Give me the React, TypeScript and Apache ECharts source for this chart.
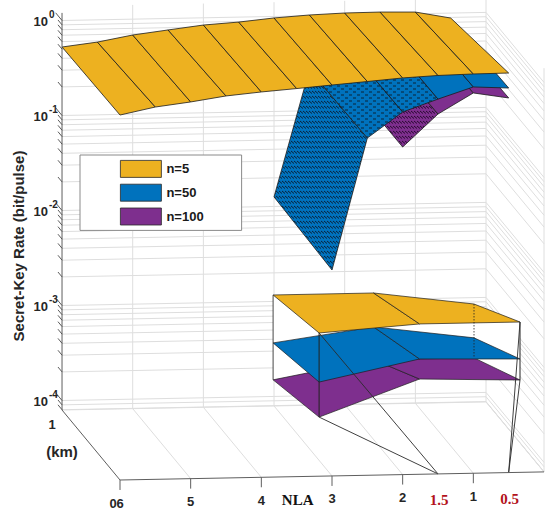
import React, { useEffect, useRef } from "react";
import * as echarts from "echarts";

// ---------------- data: secret-key rate (bit/pulse) ----------------
const NLA = [6, 5.5, 5, 4.5, 4, 3.5, 3, 2.5, 2, 1.5, 1, 0.5];
const DISTANCE_KM = [0, 1];
const RATE_N5_0KM = [0.552, 0.659, 0.733, 0.834, 0.904, 0.966, 1.035, 1.109, 1.189, 1.242, 1.268, 1.276];
const RATE_N5_1KM = [0.526, 0.583, 0.681, 0.757, 0.839, 0.887, 0.964, 1.019, 1.052, 1.059, 1.042, 0.887];
const RATE_N50_0KM = [null, null, null, null, null, null, 0.0117, 0.282, 0.521, 0.701, 0.925, 0.887];
const RATE_N50_1KM = [null, null, null, null, null, null, 0.0126, 0.269, 0.501, 0.676, 0.871, 0.832];
const RATE_N100_0KM = [null, null, null, null, null, null, null, null, 0.223, 0.488, 0.8, 0.697];
const RATE_N100_1KM = [null, null, null, null, null, null, null, null, 0.219, 0.468, 0.759, 0.661];

// zoomed view (inset)
const ZOOM_NLA = [1.5, 1, 0.5];
const ZOOM_N5_0KM = [1.242, 1.365, 1.393];
const ZOOM_N5_1KM = [1.242, 1.268, 1.13];
const ZOOM_N50_0KM = [0.743, 0.946, 0.946];
const ZOOM_N50_1KM = [0.752, 0.889, 0.793];
const ZOOM_N100_0KM = [0.515, 0.767, 0.759];
const ZOOM_N100_1KM = [0.511, 0.631, 0.643];

const NLA_TICKS = [6, 5, 4, 3, 2, 1];
const NLA_GRID = [6, 5, 4, 3, 2, 1, 0];
const DIST_TICKS = [0, 1];
const RATE_DECADES = [-4, -3, -2, -1, 0];
const HIGHLIGHT_NLA = [1.5, 0.5];
const SERIES_NAMES = ["n=5", "n=50", "n=100"];

// ---------------- style ----------------
const YELLOW = "#EDB120";
const BLUE = "#0072BD";
const PURPLE = "#7E2F8E";
const SANS = '"Liberation Sans", Arial, Helvetica, sans-serif';
const SERIF = '"Liberation Serif", "Times New Roman", serif';
const GRID_STYLE = { stroke: "#dedede", lineWidth: 1 };
const AXIS_STYLE = { stroke: "#5e5e5e", lineWidth: 1 };
const EDGE = "#1c1c1c";

const LOG_MIN = -4.1;
const LOG_AXIS_TOP = 0.08;
const WALL_TOP = 0.15;

// oblique projection of (NLA, distance, log10 rate) into the hidden cartesian plane
const DX = 58 / 70.7;
const DY = 70 / 95;
const TILT = 1.35 / 95;
const lg = (v: number) => Math.log10(v);
const P = (nla: number, d: number, lz: number) => [nla + d * DX, lz + d * DY + (6 - nla) * TILT];
// magnified projection for the inset
const IX0 = 3.1825, IKX = 2.843, IDX = 0.651, IY0 = -2.5526, IL0 = 0.094, IKY = 2.316, IDY = 0.4;
const PZ = (nla: number, d: number, lz: number) => [IX0 + (nla - 1.5) * IKX + d * IDX, IY0 + (lz - IL0) * IKY + d * IDY];

const GRID_LEVELS: number[] = [];
for (let k = -5; k <= 0; k++) {
  for (let m = 1; m <= 9; m++) {
    const l = k + Math.log10(m);
    if (l > LOG_MIN && l < WALL_TOP) GRID_LEVELS.push(l);
  }
}

function cells(near: (number | null)[], far: (number | null)[]) {
  const out: number[][] = [];
  for (let i = 0; i < NLA.length - 1; i++) {
    if (near[i] == null || near[i + 1] == null || far[i] == null || far[i + 1] == null) continue;
    out.push([NLA[i], NLA[i + 1], near[i] as number, near[i + 1] as number, far[i] as number, far[i + 1] as number]);
  }
  return out;
}

function seg(api: any, a: number[], b: number[], style: any) {
  const p = api.coord(a);
  const q = api.coord(b);
  return { type: "line", shape: { x1: p[0], y1: p[1], x2: q[0], y2: q[1] }, style };
}

function makePattern(bg: string, ink: string, kind: string) {
  const w = kind === "hatch" ? 3 : 8;
  const h = kind === "hatch" ? 5 : 6;
  const c = document.createElement("canvas");
  c.width = w;
  c.height = h;
  const g = c.getContext("2d")!;
  g.fillStyle = bg;
  g.fillRect(0, 0, w, h);
  g.strokeStyle = ink;
  g.lineWidth = 1;
  g.beginPath();
  if (kind === "hatch") {
    g.moveTo(0, 1);
    g.lineTo(3, 3.5);
  } else {
    g.moveTo(1, 2);
    g.lineTo(4, 2);
    g.moveTo(5, 5);
    g.lineTo(8, 5);
  }
  g.stroke();
  return { image: c.toDataURL(), repeat: "repeat", imageWidth: w, imageHeight: h };
}

export default function App() {
  const ref = useRef<HTMLDivElement>(null);

  useEffect(() => {
    const chart = echarts.init(ref.current!, null, { renderer: "svg" });

    const hatchBlue = makePattern(BLUE, "#0b2236", "hatch");
    const dotsBlue = makePattern(BLUE, "#0b2236", "dots");
    const hatchPurple = makePattern(PURPLE, "#2a0a30", "hatch");

    const fillN5 = () => YELLOW;
    const fillN50 = (a: number) => (a === 3 ? hatchBlue : a === 2.5 || a === 2 ? dotsBlue : BLUE);
    const fillN100 = (a: number) => (a === 2 ? hatchPurple : PURPLE);

    const surfaceRender = (fillFor: (a: number) => any) => (params: any, api: any) => {
      const a = api.value(0);
      const b = api.value(1);
      const pts = [
        P(a, DISTANCE_KM[0], lg(api.value(2))),
        P(b, DISTANCE_KM[0], lg(api.value(3))),
        P(b, DISTANCE_KM[1], lg(api.value(5))),
        P(a, DISTANCE_KM[1], lg(api.value(4))),
      ].map((p) => api.coord(p));
      return {
        type: "polygon",
        shape: { points: pts },
        style: { fill: fillFor(a), stroke: EDGE, lineWidth: 0.8, lineJoin: "round" },
      };
    };

    // zoom sets, drawn bottom-up
    const ZOOM_SETS = [
      { near: ZOOM_N100_0KM, far: ZOOM_N100_1KM, color: PURPLE },
      { near: ZOOM_N50_0KM, far: ZOOM_N50_1KM, color: BLUE },
      { near: ZOOM_N5_0KM, far: ZOOM_N5_1KM, color: YELLOW },
    ];
    const zoomCells: number[][] = [];
    ZOOM_SETS.forEach((s, si) => {
      for (let i = 0; i < ZOOM_NLA.length - 1; i++) {
        zoomCells.push([ZOOM_NLA[i], ZOOM_NLA[i + 1], s.near[i], s.near[i + 1], s.far[i], s.far[i + 1], si]);
      }
    });
    const zi = (nla: number) => ZOOM_NLA.indexOf(nla);
    const zTop = (nla: number, d: number) => lg((d === 0 ? ZOOM_N5_0KM : ZOOM_N5_1KM)[zi(nla)]);
    const zBot = (nla: number, d: number) => lg((d === 0 ? ZOOM_N100_0KM : ZOOM_N100_1KM)[zi(nla)]);

    const option: any = {
      animation: false,
      backgroundColor: "#ffffff",
      grid: { left: 120, right: 6, top: 20, bottom: 36, containLabel: false },
      xAxis: { type: "value", min: 0, max: 6, inverse: true, show: false },
      yAxis: { type: "value", min: LOG_MIN, max: LOG_MIN + 460 / 95, show: false },
      legend: {
        data: SERIES_NAMES.map((n, i) => ({
          name: n,
          itemStyle: { color: [YELLOW, BLUE, PURPLE][i], borderColor: "#2a2a2a", borderWidth: 0.8 },
        })),
        orient: "vertical",
        left: 80,
        top: 155,
        itemWidth: 41,
        itemHeight: 17,
        itemGap: 6,
        padding: [5, 38, 5, 40],
        borderColor: "#8a8a8a",
        borderWidth: 1,
        backgroundColor: "#ffffff",
        icon: "rect",
        selectedMode: false,
        textStyle: { fontSize: 13, fontWeight: "bold", color: "#1a1a1a", fontFamily: SANS },
        z: 20,
      },
      graphic: [
        {
          type: "text",
          x: 18,
          y: 246,
          rotation: Math.PI / 2,
          style: {
            text: "Secret-Key Rate (bit/pulse)",
            fill: "#262626",
            font: `bold 15px ${SANS}`,
            textAlign: "center",
            textVerticalAlign: "middle",
          },
          z: 30,
        },
      ],
      series: [
        // back wall verticals + floor lines
        {
          type: "custom",
          coordinateSystem: "cartesian2d",
          silent: true,
          z: 1,
          data: NLA_GRID.map((n) => [n, LOG_MIN]),
          renderItem: (params: any, api: any) => {
            const n = api.value(0);
            const ch: any[] = [];
            if (n !== 6) {
              ch.push(seg(api, P(n, 1, LOG_MIN), P(n, 1, WALL_TOP), GRID_STYLE));
              ch.push(seg(api, P(n, 1, LOG_MIN), P(n, 0, LOG_MIN), GRID_STYLE));
            }
            if (n === 0) ch.push(seg(api, P(0, 0, LOG_MIN), P(0, 0, WALL_TOP), GRID_STYLE));
            return { type: "group", children: ch };
          },
        },
        // horizontal log grid lines on back and side walls
        {
          type: "custom",
          coordinateSystem: "cartesian2d",
          silent: true,
          z: 1,
          data: [LOG_MIN, ...GRID_LEVELS].map((l) => [0, l]),
          renderItem: (params: any, api: any) => {
            const l = api.value(1);
            const pts = [P(6, 1, l), P(0, 1, l), P(0, 0, l)].map((p) => api.coord(p));
            return { type: "polyline", shape: { points: pts }, style: { ...GRID_STYLE, fill: "none" } };
          },
        },
        // surfaces
        {
          name: "n=100",
          type: "custom",
          coordinateSystem: "cartesian2d",
          silent: true,
          z: 2,
          itemStyle: { color: PURPLE },
          data: cells(RATE_N100_0KM, RATE_N100_1KM),
          renderItem: surfaceRender(fillN100),
        },
        {
          name: "n=50",
          type: "custom",
          coordinateSystem: "cartesian2d",
          silent: true,
          z: 3,
          itemStyle: { color: BLUE },
          data: cells(RATE_N50_0KM, RATE_N50_1KM),
          renderItem: surfaceRender(fillN50),
        },
        {
          name: "n=5",
          type: "custom",
          coordinateSystem: "cartesian2d",
          silent: true,
          z: 4,
          itemStyle: { color: YELLOW },
          data: cells(RATE_N5_0KM, RATE_N5_1KM),
          renderItem: surfaceRender(fillN5),
        },
        // inset: white backing
        {
          type: "custom",
          coordinateSystem: "cartesian2d",
          silent: true,
          z: 5,
          data: [[ZOOM_NLA[0], 0]],
          renderItem: (params: any, api: any) => {
            const pts: number[][] = [];
            ZOOM_NLA.forEach((n) => pts.push(PZ(n, 1, zTop(n, 1))));
            pts.push(PZ(ZOOM_NLA[2], 0, zTop(ZOOM_NLA[2], 0)));
            [...ZOOM_NLA].reverse().forEach((n) => pts.push(PZ(n, 0, zBot(n, 0))));
            pts.push(PZ(ZOOM_NLA[0], 1, zBot(ZOOM_NLA[0], 1)));
            return {
              type: "polygon",
              shape: { points: pts.map((p) => api.coord(p)) },
              style: { fill: "#ffffff", stroke: "none" },
            };
          },
        },
        // inset: back-left vertical
        {
          type: "custom",
          coordinateSystem: "cartesian2d",
          silent: true,
          z: 6,
          data: [[ZOOM_NLA[0], 1]],
          renderItem: (params: any, api: any) => {
            const n = api.value(0);
            const d = api.value(1);
            return seg(api, PZ(n, d, zTop(n, d)), PZ(n, d, zBot(n, d)), { stroke: "#333", lineWidth: 0.9 });
          },
        },
        // inset: surfaces
        {
          type: "custom",
          coordinateSystem: "cartesian2d",
          silent: true,
          z: 7,
          data: zoomCells,
          renderItem: (params: any, api: any) => {
            const a = api.value(0);
            const b = api.value(1);
            const s = api.value(6);
            const pts = [
              PZ(a, 0, lg(api.value(2))),
              PZ(b, 0, lg(api.value(3))),
              PZ(b, 1, lg(api.value(5))),
              PZ(a, 1, lg(api.value(4))),
            ].map((p) => api.coord(p));
            return {
              type: "polygon",
              shape: { points: pts },
              style: { fill: ZOOM_SETS[s].color, stroke: EDGE, lineWidth: 0.7, lineJoin: "round" },
            };
          },
        },
        // inset: front verticals and dotted back-right vertical
        {
          type: "custom",
          coordinateSystem: "cartesian2d",
          silent: true,
          z: 8,
          data: [[ZOOM_NLA[0], 0], [ZOOM_NLA[2], 0], [ZOOM_NLA[2], 1]],
          renderItem: (params: any, api: any) => {
            const n = api.value(0);
            const d = api.value(1);
            const dotted = d === 1;
            return seg(api, PZ(n, d, zTop(n, d)), PZ(n, d, zBot(n, d)), {
              stroke: "#222",
              lineWidth: dotted ? 0.8 : 1,
              lineDash: dotted ? [1.5, 1.5] : null,
            });
          },
        },
        // connectors from inset to NLA axis
        {
          type: "custom",
          coordinateSystem: "cartesian2d",
          silent: true,
          z: 9,
          data: HIGHLIGHT_NLA.map((h) => [h, LOG_MIN]),
          renderItem: (params: any, api: any) => {
            const h = api.value(0);
            const target = P(h, 0, LOG_MIN);
            const st = { stroke: "#2a2a2a", lineWidth: 0.9 };
            return {
              type: "group",
              children: [
                seg(api, PZ(h, 0, zTop(h, 0)), target, st),
                seg(api, PZ(h, 0, zBot(h, 0)), target, st),
              ],
            };
          },
        },
        // axis lines
        {
          type: "custom",
          coordinateSystem: "cartesian2d",
          silent: true,
          z: 10,
          data: [[6, LOG_MIN]],
          renderItem: (params: any, api: any) => ({
            type: "group",
            children: [
              seg(api, P(6, 1, LOG_MIN), P(6, 1, LOG_AXIS_TOP), AXIS_STYLE),
              seg(api, P(6, 1, LOG_MIN), P(6, 0, LOG_MIN), AXIS_STYLE),
              seg(api, P(6, 0, LOG_MIN), P(0, 0, LOG_MIN), AXIS_STYLE),
            ],
          }),
        },
        // rate axis ticks
        {
          type: "custom",
          coordinateSystem: "cartesian2d",
          silent: true,
          z: 10,
          data: GRID_LEVELS.filter((l) => l <= LOG_AXIS_TOP).map((l) => [6, l]),
          renderItem: (params: any, api: any) => {
            const l = api.value(1);
            const major = Math.abs(l - Math.round(l)) < 1e-6;
            return seg(api, P(6, 1, l), P(6, 1 + (major ? 0.11 : 0.07), l), { stroke: "#4a4a4a", lineWidth: 0.9 });
          },
        },
        // rate axis labels 10^k
        {
          type: "custom",
          coordinateSystem: "cartesian2d",
          silent: true,
          z: 10,
          data: RATE_DECADES.map((k) => [6, k]),
          renderItem: (params: any, api: any) => {
            const k = api.value(1);
            const p = api.coord(P(6, 1, k));
            return {
              type: "group",
              children: [
                {
                  type: "text",
                  x: p[0] - 14,
                  y: p[1] + 1,
                  style: { text: "10", fill: "#262626", font: `bold 13px ${SANS}`, align: "right", verticalAlign: "middle" },
                },
                {
                  type: "text",
                  x: p[0] - 13,
                  y: p[1] - 6,
                  style: { text: String(k), fill: "#262626", font: `bold 10px ${SANS}`, align: "left", verticalAlign: "middle" },
                },
              ],
            };
          },
        },
        // NLA ticks + labels
        {
          type: "custom",
          coordinateSystem: "cartesian2d",
          silent: true,
          z: 10,
          data: NLA_TICKS.map((n) => [n, LOG_MIN]),
          renderItem: (params: any, api: any) => {
            const n = api.value(0);
            const p = api.coord(P(n, 0, LOG_MIN));
            return {
              type: "group",
              children: [
                seg(api, P(n, 0, LOG_MIN), P(n, 0, LOG_MIN - 0.105), AXIS_STYLE),
                {
                  type: "text",
                  x: p[0],
                  y: p[1] + 23,
                  style: { text: String(n), fill: "#262626", font: `bold 13px ${SANS}`, align: "center", verticalAlign: "middle" },
                },
              ],
            };
          },
        },
        // distance tick labels
        {
          type: "custom",
          coordinateSystem: "cartesian2d",
          silent: true,
          z: 10,
          data: DIST_TICKS.map((d) => [6, LOG_MIN, d]),
          renderItem: (params: any, api: any) => {
            const d = api.value(2);
            const p = api.coord(P(6, d, LOG_MIN));
            return {
              type: "text",
              x: p[0] - 7 - 3 * d,
              y: p[1] + 14 + 9 * (1 - d),
              style: { text: String(d), fill: "#262626", font: `bold 13px ${SANS}`, align: "center", verticalAlign: "middle" },
            };
          },
        },
        // axis names
        {
          type: "custom",
          coordinateSystem: "cartesian2d",
          silent: true,
          z: 10,
          data: [[3.5, LOG_MIN]],
          renderItem: (params: any, api: any) => {
            const pn = api.coord(P(3.5, 0, LOG_MIN));
            const pk = api.coord(P(6, 0.5, LOG_MIN));
            return {
              type: "group",
              children: [
                {
                  type: "text",
                  x: pn[0] + 1,
                  y: pn[1] + 23,
                  style: { text: "NLA", fill: "#111", font: `bold 15px ${SERIF}`, align: "center", verticalAlign: "middle" },
                },
                {
                  type: "text",
                  x: pk[0] - 29,
                  y: pk[1] + 6,
                  style: { text: "(km)", fill: "#262626", font: `bold 15px ${SANS}`, align: "center", verticalAlign: "middle" },
                },
              ],
            };
          },
        },
        // highlighted NLA values
        {
          type: "custom",
          coordinateSystem: "cartesian2d",
          silent: true,
          z: 10,
          data: HIGHLIGHT_NLA.map((h) => [h, LOG_MIN]),
          renderItem: (params: any, api: any) => {
            const h = api.value(0);
            const p = api.coord(P(h, 0, LOG_MIN));
            return {
              type: "text",
              x: p[0] + 1,
              y: p[1] + 26,
              style: { text: String(h), fill: "#b3121c", font: `bold 15px ${SERIF}`, align: "center", verticalAlign: "middle" },
            };
          },
        },
      ],
    };

    chart.setOption(option);
    return () => chart.dispose();
  }, []);

  return (
    <div
      ref={ref}
      style={{ position: "absolute", left: 0, top: 0, width: 550, height: 516, background: "#ffffff" }}
    />
  );
}
